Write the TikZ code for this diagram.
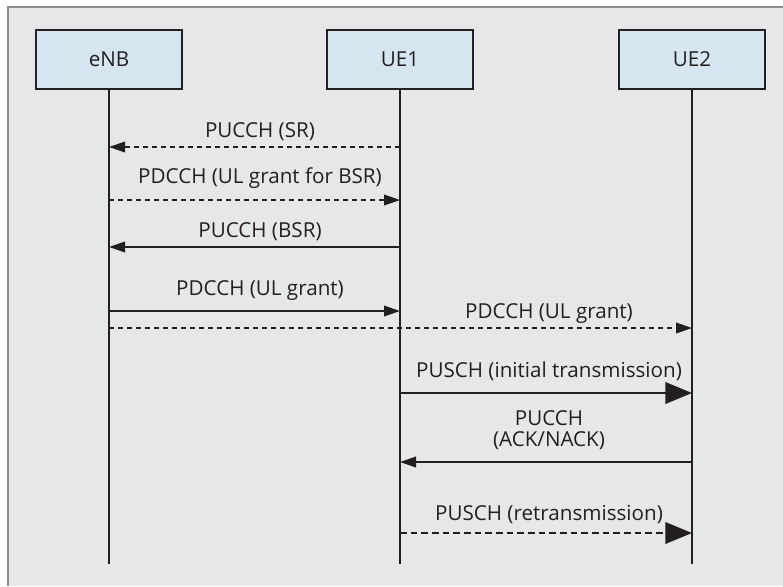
\documentclass[tikz,border=0pt]{standalone}
\usepackage{fontspec}
\setmainfont{Open Sans}
\usetikzlibrary{arrows.meta, positioning}
\definecolor{panel}{RGB}{230,231,232}
\definecolor{framegray}{RGB}{140,140,140}
\definecolor{entity}{RGB}{214,230,241}
\definecolor{ink}{RGB}{35,31,32}

\begin{document}
\begin{tikzpicture}[
    x=0.3mm, y=-0.3mm,
    entitybox/.style={draw=ink, line width=0.4mm, fill=entity, text=ink,
      minimum width=43.8mm, minimum height=17.7mm, inner sep=0pt,
      font=\fontsize{17.6}{18.5}\selectfont},
    lifeline/.style={ink, line width=0.4mm},
    msg/.style={ink, line width=0.45mm, -{Triangle[length=4.8mm, width=3.2mm]}},
    bigmsg/.style={ink, line width=0.8mm, -{Triangle[length=8mm, width=6.4mm]}},
    dashmsg/.style={dash pattern=on 1.5mm off 1.2mm},
    bigdash/.style={dash pattern=on 2mm off 1.2mm},
    lbl/.style={font=\fontsize{17.6}{18.5}\selectfont, text=ink, inner sep=0pt, align=center}
  ]

  \useasboundingbox (0,0) rectangle (783,586);

  % Panel
  \fill[panel] (8,7) rectangle (783,586);
  \draw[framegray, line width=0.6mm] (8,586) -- (8,7) -- (783,7);

  % Entities
  \node[entitybox] (enb) at (109,59.5) {eNB};
  \node[entitybox] (ue1) at (400,59.5) {UE1};
  \node[entitybox] (ue2) at (692,59.5) {UE2};

  % Lifelines
  \foreach \n in {enb, ue1, ue2} {
    \draw[lifeline] (\n.south) -- (\n |- 0,564);
  }

  % Messages eNB <-> UE1
  \draw[msg, dashmsg] (ue1 |- 0,147) -- (enb |- 0,147);
  \node[lbl, anchor=base] (sr) at (260,137) {PUCCH (SR)};

  \draw[msg, dashmsg] (enb |- 0,200) -- (ue1 |- 0,200);
  \node[lbl, anchor=base] (grantbsr) at (260,183) {PDCCH (UL grant for BSR)};

  \draw[msg] (ue1 |- 0,247) -- (enb |- 0,247);
  \node[lbl, anchor=base] (bsr) at (260,237) {PUCCH (BSR)};

  \draw[msg] (enb |- 0,311) -- (ue1 |- 0,311);
  \node[lbl, anchor=base] (grant1) at (260,295) {PDCCH (UL grant)};

  % Messages towards UE2
  \draw[msg, dashmsg] (enb |- 0,328) -- (ue2 |- 0,328);
  \node[lbl, anchor=base] (grant2) at (549,318) {PDCCH (UL grant)};

  \draw[bigmsg] (ue1 |- 0,393) -- (ue2 |- 0,393);
  \node[lbl, anchor=base] (initial) at (549,377) {PUSCH (initial transmission)};

  \draw[msg] (ue2 |- 0,462) -- (ue1 |- 0,462);
  \node[lbl] (acknack) at (549,430) {PUCCH\\(ACK/NACK)};

  \draw[bigmsg, bigdash] (ue1 |- 0,533) -- (ue2 |- 0,533);
  \node[lbl, anchor=base] (retx) at (549,520) {PUSCH (retransmission)};

\end{tikzpicture}
\end{document}
